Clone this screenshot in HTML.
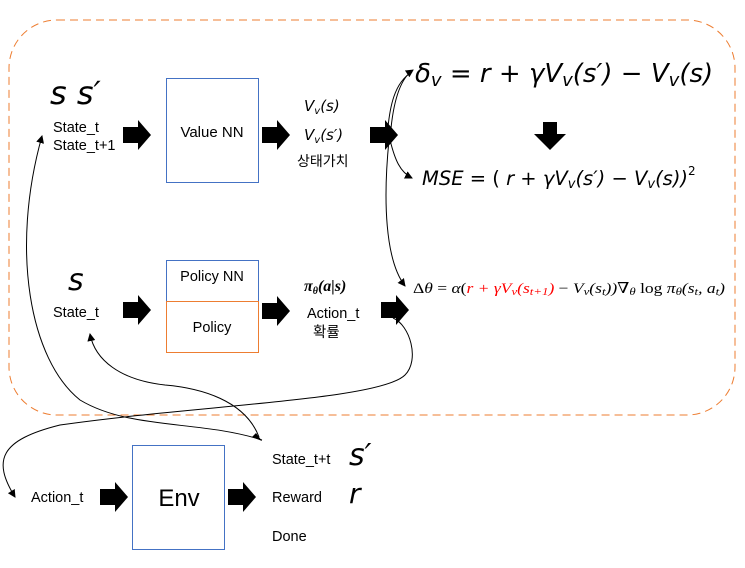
<!DOCTYPE html>
<html><head><meta charset="utf-8"><style>
html,body{margin:0;padding:0;background:#fff;}
svg{display:block}
text{font-family:"Liberation Sans","Noto Sans CJK KR",sans-serif;fill:#000}
.m{font-family:"Liberation Serif","DejaVu Serif",serif;font-style:italic}
.ms{font-family:"DejaVu Sans","Liberation Sans",sans-serif;font-style:italic}
</style></head><body>
<svg width="745" height="568" viewBox="0 0 745 568" xmlns="http://www.w3.org/2000/svg">
<defs>
<marker id="ah" markerWidth="8" markerHeight="8" refX="7" refY="4" orient="auto" markerUnits="userSpaceOnUse"><path d="M0,0 L8,4 L0,8 z" fill="#000"/></marker>
<g id="ba"><path d="M0,7 L15,7 L15,0 L28,15 L15,30 L15,23 L0,23 z" fill="#000"/></g>
</defs>
<rect x="9" y="20" width="726" height="395" rx="48" ry="48" fill="none" stroke="#ed7d31" stroke-width="1" stroke-dasharray="8,5"/>

<text x="50" y="104" class="ms" font-size="32">s s′</text>
<text x="53" y="132" font-size="14.5">State_t</text>
<text x="53" y="150" font-size="14.5">State_t+1</text>
<use href="#ba" x="123" y="120"/>
<rect x="166.5" y="78.5" width="92" height="104" fill="none" stroke="#4472c4"/>
<text x="212" y="137" font-size="15" text-anchor="middle">Value NN</text>
<use href="#ba" x="262" y="120"/>
<text x="304" y="111" class="ms" font-size="15">V<tspan font-size="10" dy="3">v</tspan><tspan dy="-3">(s)</tspan></text>
<text x="304" y="140" class="ms" font-size="15">V<tspan font-size="10" dy="3">v</tspan><tspan dy="-3">(s′)</tspan></text>
<text x="297" y="166" font-size="14">상태가치</text>
<use href="#ba" x="370" y="120"/>

<text x="415" y="82" class="ms" font-size="26">δ<tspan font-size="18" dy="4">v</tspan><tspan dy="-4" font-style="normal"> = </tspan>r<tspan font-style="normal"> + </tspan>γV<tspan font-size="18" dy="4">v</tspan><tspan dy="-4">(s′) </tspan><tspan font-style="normal">− </tspan>V<tspan font-size="18" dy="4">v</tspan><tspan dy="-4">(s)</tspan></text>
<path d="M543,122 L557,122 L557,134 L566,134 L550,150 L534,134 L543,134 z" fill="#000"/>
<text x="422" y="185" class="ms" font-size="19.5">MSE<tspan font-style="normal"> = ( </tspan>r<tspan font-style="normal"> + </tspan>γV<tspan font-size="13" dy="3">v</tspan><tspan dy="-3">(s′) </tspan><tspan font-style="normal">− </tspan>V<tspan font-size="13" dy="3">v</tspan><tspan dy="-3">(s))</tspan><tspan font-size="12" dy="-10" font-style="normal">2</tspan></text>
<text x="413" y="293" class="m" font-size="15" textLength="312" lengthAdjust="spacingAndGlyphs"><tspan font-style="normal">Δ</tspan>θ<tspan font-style="normal"> = </tspan>α<tspan font-style="normal">(</tspan><tspan fill="#ff0000">r + γV<tspan font-size="11" dy="2">v</tspan><tspan dy="-2">(s</tspan><tspan font-size="11" dy="2">t+1</tspan><tspan dy="-2">)</tspan></tspan><tspan font-style="normal"> − </tspan>V<tspan font-size="11" dy="2">v</tspan><tspan dy="-2">(s</tspan><tspan font-size="11" dy="2">t</tspan><tspan dy="-2">))∇</tspan><tspan font-size="11" dy="2">θ</tspan><tspan dy="-2" font-style="normal"> log </tspan>π<tspan font-size="11" dy="2">θ</tspan><tspan dy="-2">(s</tspan><tspan font-size="11" dy="2">t</tspan><tspan dy="-2">, a</tspan><tspan font-size="11" dy="2">t</tspan><tspan dy="-2">)</tspan></text>

<text x="68" y="290" class="ms" font-size="30">s</text>
<text x="53" y="317" font-size="14.5">State_t</text>
<use href="#ba" x="123" y="295"/>
<rect x="166.5" y="260.5" width="92" height="41" fill="none" stroke="#4472c4"/>
<rect x="166.5" y="301.5" width="92" height="51" fill="none" stroke="#ed7d31"/>
<text x="212" y="281" font-size="14.5" text-anchor="middle">Policy NN</text>
<text x="212" y="332" font-size="14.5" text-anchor="middle">Policy</text>
<use href="#ba" x="262" y="296"/>
<text x="304" y="291" class="m" font-size="16" font-weight="bold" fill="#555">π<tspan font-size="10" dy="3">θ</tspan><tspan dy="-3">(a|s)</tspan></text>
<text x="307" y="318" font-size="14.5">Action_t</text>
<text x="313" y="337" font-size="14.5">확률</text>
<use href="#ba" x="381" y="295"/>

<g fill="none" stroke="#000" stroke-width="1">
<path d="M390,140 C392,110 398,80 413,70" marker-end="url(#ah)"/>
<path d="M387,140 C389,105 395,82 412,72"/>
<path d="M390,140 C395,160 400,172 412,178" marker-end="url(#ah)"/>
<path d="M389,140 C383,200 385,260 405,286" marker-end="url(#ah)"/>
<path d="M262,440 C200,420 130,430 80,400 C30,360 10,250 42,136" marker-end="url(#ah)"/>
<path d="M259,437 C245,400 200,388 165,385 C120,380 95,360 90,334" marker-end="url(#ah)"/>
<path d="M393,318 C410,325 420,360 405,375 C380,400 200,405 60,425 C0,440 -8,460 15,497" marker-end="url(#ah)"/>
</g>
<path d="M252,437 L262,441 L256,433 z" fill="#000"/>

<text x="31" y="502" font-size="14.5">Action_t</text>
<use href="#ba" x="100" y="482"/>
<rect x="132.5" y="445.5" width="92" height="104" fill="none" stroke="#4472c4"/>
<text x="179" y="506" font-size="24" text-anchor="middle">Env</text>
<use href="#ba" x="228" y="482"/>
<text x="272" y="464" font-size="14.5">State_t+t</text>
<text x="272" y="502" font-size="14.5">Reward</text>
<text x="272" y="541" font-size="14.5">Done</text>
<text x="349" y="465" class="ms" font-size="30">s′</text>
<text x="349" y="503" class="ms" font-size="28">r</text>
</svg>
</body></html>
